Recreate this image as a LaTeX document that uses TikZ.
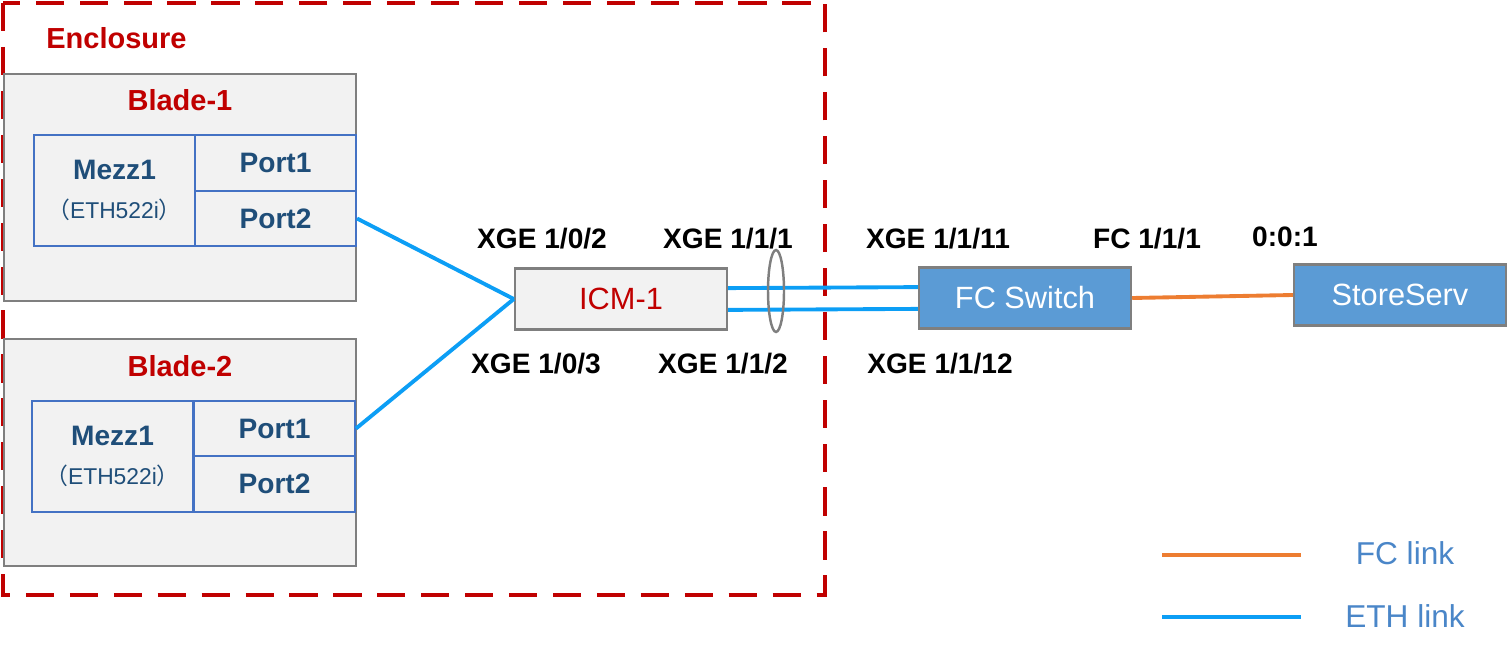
\documentclass[tikz,border=0pt]{standalone}
\usepackage{fontspec}
\setmainfont{Liberation Sans}
\newfontfamily\cjk{Noto Sans CJK SC}
\usepackage{xcolor}
\usepackage{tikz}
\usetikzlibrary{arrows.meta,positioning,calc}
\definecolor{encred}{RGB}{192,0,0}
\definecolor{boxgray}{RGB}{242,242,242}
\definecolor{edgegray}{RGB}{127,127,127}
\definecolor{tblblue}{RGB}{68,114,196}
\definecolor{txtblue}{RGB}{31,78,121}
\definecolor{ethblue}{RGB}{12,158,245}
\definecolor{fcorange}{RGB}{237,125,49}
\definecolor{swblue}{RGB}{91,155,213}
\definecolor{lgdblue}{RGB}{74,134,200}

\begin{document}
\begin{tikzpicture}[
  x=0.02cm, y=-0.02cm,
  blade/.style={rectangle, draw=edgegray, fill=boxgray, line width=1.4pt, minimum width=7.04cm, minimum height=4.54cm, inner sep=0pt},
  mezz/.style={rectangle, draw=tblblue, line width=1.2pt, minimum width=3.22cm, minimum height=2.22cm, inner sep=0pt, align=center, text=txtblue, font=\fontsize{16}{22}\selectfont\bfseries},
  port/.style={rectangle, draw=tblblue, line width=1.2pt, minimum width=3.22cm, minimum height=1.11cm, inner sep=0pt, text=txtblue, font=\fontsize{16}{19}\selectfont\bfseries},
  redlbl/.style={text=encred, inner sep=0pt, font=\fontsize{16.5}{19}\selectfont\bfseries},
  dev/.style={rectangle, draw=edgegray, line width=1.4pt, minimum width=4.24cm, minimum height=1.22cm, inner sep=0pt, font=\fontsize{17.5}{20}\selectfont},
  plbl/.style={inner sep=0pt, font=\fontsize{16}{19}\selectfont\bfseries},
  lgd/.style={inner sep=0pt, text=lgdblue, font=\fontsize{18}{21}\selectfont},
  eth/.style={draw=ethblue, line width=2.2pt},
  fc/.style={draw=fcorange, line width=2.2pt}
]
  \useasboundingbox (0,0) rectangle (1508,652);

  \draw[encred, line width=2.1pt, dash pattern=on 16pt off 9pt] (3,3) rectangle (825,595);
  \node[redlbl, anchor=west] (encl) at (46,38) {Enclosure};

  \node[blade] (blade1) at (180,187.5) {};
  \node[redlbl] (b1lbl) at (180,100) {Blade-1};
  \node[mezz] (b1m) at (114.5,190.5) {Mezz1\\{\fontsize{13}{15}\selectfont\mdseries{\cjk （}ETH522i{\cjk ）}}};
  \node[port] (b1p1) at (275.5,163) {Port1};
  \node[port] (b1p2) at (275.5,218.5) {Port2};

  \node[blade] (blade2) at (180,452.5) {};
  \node[redlbl] (b2lbl) at (180,366) {Blade-2};
  \node[mezz] (b2m) at (112.5,456.5) {Mezz1\\{\fontsize{13}{15}\selectfont\mdseries{\cjk （}ETH522i{\cjk ）}}};
  \node[port] (b2p1) at (274.5,428.5) {Port1};
  \node[port] (b2p2) at (274.5,484) {Port2};

  \node[dev, fill=boxgray, text=encred] (icm) at (621,299) {ICM-1};
  \node[dev, fill=swblue, text=white] (fcsw) at (1025,298) {FC Switch};
  \node[dev, fill=swblue, text=white] (stor) at (1400,295) {StoreServ};

  \draw[eth] (b1p2.east) -- (icm.west);
  \draw[eth] (b2p1.east) -- (icm.west);
  \draw[eth] ([yshift=6.2pt]icm.east) -- ([yshift=6.2pt]fcsw.west);
  \draw[eth] ([yshift=-6.2pt]icm.east) -- ([yshift=-6.2pt]fcsw.west);
  \draw[edgegray, line width=1.4pt] (776,291) ellipse (0.16cm and 0.82cm);
  \draw[fc] (fcsw.east) -- (stor.west);

  \node[plbl] (p102) at (542,239) {XGE 1/0/2};
  \node[plbl] (p111) at (728,239) {XGE 1/1/1};
  \node[plbl] (p1111) at (938,239) {XGE 1/1/11};
  \node[plbl] (pfc) at (1147,239) {FC 1/1/1};
  \node[plbl] (p001) at (1285,237) {0:0:1};
  \node[plbl] (p103) at (536,364) {XGE 1/0/3};
  \node[plbl] (p112) at (723,364) {XGE 1/1/2};
  \node[plbl] (p1112) at (940,364) {XGE 1/1/12};

  \coordinate (fca) at (1162,555);
  \coordinate (fcb) at (1301,555);
  \draw[fc] (fca) -- (fcb);
  \node[lgd] (fclbl) at (1405,553) {FC link};
  \coordinate (etha) at (1162,617);
  \coordinate (ethb) at (1301,617);
  \draw[eth] (etha) -- (ethb);
  \node[lgd] (ethlbl) at (1405,616) {ETH link};
\end{tikzpicture}
\end{document}
